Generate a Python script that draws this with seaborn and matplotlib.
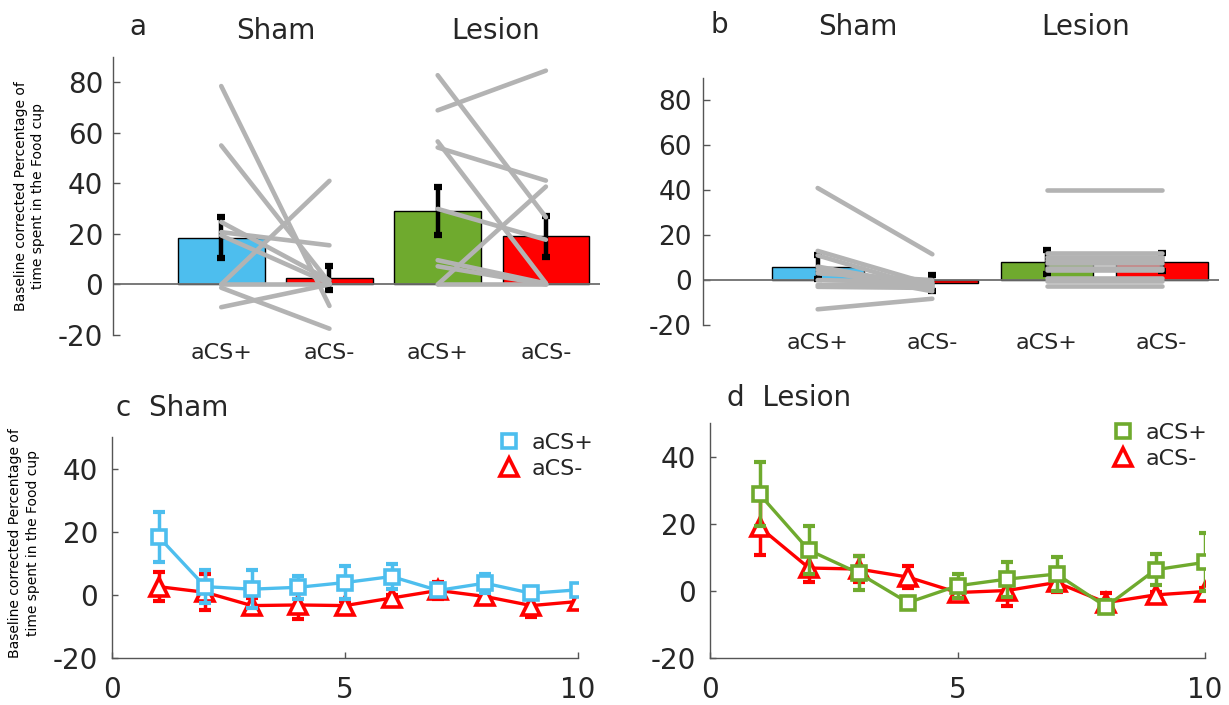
import numpy as np
import pandas as pd
import matplotlib
matplotlib.use("Agg")
import matplotlib.pyplot as plt
import seaborn as sns
from matplotlib.lines import Line2D

sns.set_theme(style="white")
plt.rcParams['font.family'] = ['DejaVu Sans']
plt.rcParams['axes.unicode_minus'] = False

# ---------------- data ----------------
bar_ids = ["Sham aCS+", "Sham aCS-", "Lesion aCS+", "Lesion aCS-"]
bar_labels = ["aCS+", "aCS-", "aCS+", "aCS-"]
group_titles = ["Sham", "Lesion"]

a_means = [18.5, 2.6, 28.9, 19.0]
a_sem = [8.0, 4.6, 9.5, 8.2]
b_means = [5.9, -1.2, 8.0, 8.0]
b_sem = [5.3, 3.5, 5.4, 4.1]

a_sham_plus = [78.5, 55.0, -1.3, -9.0, 0.0, 24.7, 20.7, 19.4, 0.0]
a_sham_minus = [-8.5, 0.7, -17.5, 0.0, 41.0, 1.7, 15.5, 0.4, 0.0]
a_lesion_plus = [68.9, 82.8, 56.6, 54.2, 29.9, 0.0, 9.6, 7.2, 0.0]
a_lesion_minus = [84.6, 26.6, 0.5, 41.1, 17.7, 38.7, 0.4, 0.0, 0.0]

b_sham_plus = [41.0, 13.0, 11.0, 6.0, 4.5, 3.0, 0.0, -2.2, -3.0, -13.0]
b_sham_minus = [11.5, -2.0, -4.0, -3.0, -5.0, 0.0, -1.0, -1.5, -3.5, -8.3]
b_lesion_plus = [40.0, 12.0, 10.5, 9.0, 7.5, 5.5, 4.5, 1.0, -0.5, -2.7]
b_lesion_minus = [40.0, 12.0, 10.5, 9.0, 7.5, 5.5, 4.5, 1.0, -0.5, -2.7]

trials = [1, 2, 3, 4, 5, 6, 7, 8, 9, 10]
c_plus = [18.4, 2.6, 1.8, 2.4, 3.9, 5.8, 1.4, 3.7, 0.5, 1.6]
c_plus_sem = [8.0, 5.2, 6.0, 3.6, 5.2, 3.9, 1.5, 3.0, 1.0, 1.0]
c_minus = [2.6, 0.8, -3.4, -3.2, -3.4, -1.0, 1.4, -0.5, -3.4, -2.1]
c_minus_sem = [4.5, 5.7, 2.4, 4.5, 1.3, 1.0, 2.8, 1.0, 3.6, 1.0]
d_plus = [28.8, 12.1, 5.3, -3.5, 1.5, 3.5, 5.0, -4.7, 6.3, 8.5]
d_plus_sem = [9.5, 7.2, 5.0, 1.5, 3.5, 5.2, 5.0, 2.0, 4.7, 8.6]
d_minus = [19.0, 6.8, 6.5, 4.1, -0.5, 0.1, 2.5, -3.5, -1.2, -0.2]
d_minus_sem = [8.2, 4.2, 4.0, 3.2, 1.0, 4.6, 2.7, 2.8, 1.0, 1.0]

ylabel_text = "Baseline corrected Percentage of\ntime spent in the Food cup"

# ---------------- styles ----------------
BLUE = "#4DBEEE"
GREEN = "#6FAA2E"
RED = "#FF0000"
GRAY = "#B3B3B3"
SPINE = "#555555"
TXT = "#262626"
bar_colors = [BLUE, RED, GREEN, RED]

W, H = 1229, 705
fig = plt.figure(figsize=(W / 100, H / 100), dpi=100)


def px_axes(l, t, r, b):
    return fig.add_axes([l / W, 1 - b / H, (r - l) / W, (b - t) / H])


def bar_panel(ax, means, sems, sham_p, sham_m, les_p, les_m, ytick_size, ypad):
    df = pd.DataFrame({"bar": bar_ids, "value": means})
    sns.barplot(data=df, x="bar", y="value", hue="bar", order=bar_ids,
                hue_order=bar_ids, palette=bar_colors, dodge=False,
                saturation=1, width=0.8, edgecolor="black", linewidth=1.0,
                legend=False, ax=ax, zorder=1)
    ax.axhline(0, color="#6E6E6E", lw=1.3, zorder=2)
    ax.errorbar(range(len(means)), means, yerr=sems, fmt="none",
                ecolor="black", elinewidth=3.2, capsize=2.6, capthick=4.5,
                zorder=3)
    rows = []
    for i, (p, m) in enumerate(zip(sham_p, sham_m)):
        rows += [("s%d" % i, 0, p), ("s%d" % i, 1, m)]
    for i, (p, m) in enumerate(zip(les_p, les_m)):
        rows += [("l%d" % i, 2, p), ("l%d" % i, 3, m)]
    ldf = pd.DataFrame(rows, columns=["subject", "pos", "value"])
    sns.lineplot(data=ldf, x="pos", y="value", units="subject",
                 estimator=None, color=GRAY, lw=3.3, ax=ax, legend=False,
                 sort=False, zorder=4, solid_capstyle="round")
    ax.set_xlim(-1, 3.5)
    ax.set_ylim(-20, 90)
    ax.set_yticks([-20, 0, 20, 40, 60, 80])
    ax.set_xticks(range(4))
    ax.set_xticklabels(bar_labels)
    ax.set_xlabel("")
    ax.set_ylabel("")
    sns.despine(ax=ax, bottom=True)
    ax.spines["left"].set_color(SPINE)
    ax.spines["left"].set_linewidth(1.0)
    ax.tick_params(axis="y", direction="in", length=5, width=1, color=SPINE,
                   labelsize=ytick_size, labelcolor=TXT, pad=ypad, left=True)
    ax.tick_params(axis="x", length=0, labelsize=16, labelcolor=TXT, pad=6)
    ax.grid(False)


def line_panel(ax, plus, plus_sem, minus, minus_sem, plus_color, leg_anchor):
    ax.errorbar(trials, minus, yerr=minus_sem, fmt="none", ecolor=RED,
                elinewidth=2.5, capsize=4, capthick=3, zorder=2)
    sns.lineplot(x=trials, y=minus, color=RED, lw=2.4, marker="^",
                 markersize=13, markerfacecolor="white", markeredgecolor=RED,
                 markeredgewidth=2.6, ax=ax, zorder=3)
    ax.errorbar(trials, plus, yerr=plus_sem, fmt="none", ecolor=plus_color,
                elinewidth=2.5, capsize=4, capthick=3, zorder=4)
    sns.lineplot(x=trials, y=plus, color=plus_color, lw=2.4, marker="s",
                 markersize=10, markerfacecolor="white",
                 markeredgecolor=plus_color, markeredgewidth=2.6, ax=ax,
                 zorder=5)
    ax.set_xlim(0, 10)
    ax.set_ylim(-20, 50)
    ax.set_xticks([0, 5, 10])
    ax.set_yticks([-20, 0, 20, 40])
    ax.set_xlabel("")
    ax.set_ylabel("")
    sns.despine(ax=ax)
    for s in ("left", "bottom"):
        ax.spines[s].set_color(SPINE)
        ax.spines[s].set_linewidth(1.0)
    ax.tick_params(axis="y", direction="in", length=4, width=1, color=SPINE,
                   labelsize=20, labelcolor=TXT, pad=10, left=True)
    ax.tick_params(axis="x", direction="in", length=4, width=1, color=SPINE,
                   labelsize=20, labelcolor=TXT, pad=13, bottom=True)
    handles = [
        Line2D([], [], ls="none", marker="s", markersize=10,
               markerfacecolor="white", markeredgecolor=plus_color,
               markeredgewidth=2.6),
        Line2D([], [], ls="none", marker="^", markersize=13,
               markerfacecolor="white", markeredgecolor=RED,
               markeredgewidth=2.6),
    ]
    ax.legend(handles, ["aCS+", "aCS-"], loc="center left",
              bbox_to_anchor=leg_anchor, frameon=False, fontsize=16,
              handlelength=1.0, handletextpad=0.5, labelspacing=0.25,
              borderpad=0, borderaxespad=0)
    ax.grid(False)


# ---------------- panel a ----------------
ax_a = px_axes(113, 57, 600, 335)
bar_panel(ax_a, a_means, a_sem, a_sham_plus, a_sham_minus,
          a_lesion_plus, a_lesion_minus, 20, 7)
ax_a.set_ylabel(ylabel_text, fontsize=10, color="black", linespacing=1.3)
ax_a.yaxis.set_label_coords(-0.14, 0.5)
fig.text(138 / W, 1 - 27 / H, "a", fontsize=20, ha="center", va="center")
fig.text(276 / W, 1 - 31 / H, group_titles[0], fontsize=20, ha="center", va="center")
fig.text(496 / W, 1 - 31 / H, group_titles[1], fontsize=20, ha="center", va="center")

# ---------------- panel b ----------------
ax_b = px_axes(703, 78, 1219, 325)
bar_panel(ax_b, b_means, b_sem, b_sham_plus, b_sham_minus,
          b_lesion_plus, b_lesion_minus, 19, 8)
fig.text(719 / W, 1 - 25 / H, "b", fontsize=20, ha="center", va="center")
fig.text(858 / W, 1 - 27 / H, group_titles[0], fontsize=20, ha="center", va="center")
fig.text(1086 / W, 1 - 27 / H, group_titles[1], fontsize=20, ha="center", va="center")

# ---------------- panel c ----------------
ax_c = px_axes(112, 437, 578, 658)
line_panel(ax_c, c_plus, c_plus_sem, c_minus, c_minus_sem, BLUE,
           ((498 - 112) / 466, (658 - 456) / 221))
ax_c.set_ylabel(ylabel_text, fontsize=10, color="black", linespacing=1.3)
ax_c.yaxis.set_label_coords(-0.155, 0.52)
fig.text(116 / W, 1 - 408 / H, "c  Sham", fontsize=20, ha="left", va="center")

# ---------------- panel d ----------------
ax_d = px_axes(710, 423, 1205, 658)
line_panel(ax_d, d_plus, d_plus_sem, d_minus, d_minus_sem, GREEN,
           ((1112 - 710) / 495, (658 - 446) / 235))
fig.text(727 / W, 1 - 398 / H, "d  Lesion", fontsize=20, ha="left", va="center")

fig.savefig("out.png", dpi=100)
